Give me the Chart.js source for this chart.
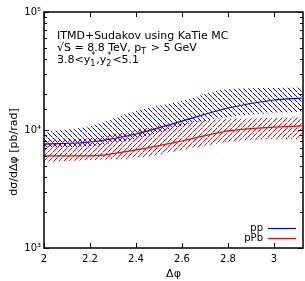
<!DOCTYPE html>
<html>
<head>
<meta charset="utf-8">
<script src="https://cdn.jsdelivr.net/npm/chart.js@4"></script>
<style>
  html, body { margin: 0; padding: 0; background: #fff; }
  #wrap { width: 305px; height: 281px; }
</style>
</head>
<body>
<div id="wrap"><canvas id="myChart" width="305" height="281"></canvas></div>
<script>
// delta phi values
const dphi = [2.0, 2.2, 2.4, 2.6, 2.8, 3.0, 3.12];
const xTicks = [2, 2.2, 2.4, 2.6, 2.8, 3];

// pp (blue)
const ppCentral = [7600, 7910, 9250, 11900, 15350, 17950, 18650];
const ppUpper   = [9620, 10820, 14490, 17600, 22250, 22700, 23150];
const ppLower   = [7030, 7310, 8390, 10820, 12880, 13930, 14210];

// pPb (red)
const pPbCentral = [6030, 6030, 6780, 8070, 9820, 10590, 10820];
const pPbUpper   = [8070, 8550, 10000, 11700, 12390, 12640, 12880];
const pPbLower   = [5360, 5570, 5790, 6780, 7910, 8390, 8390];

const seriesNames = ["pp", "pPb"];
const seriesColors = ["#0000ff", "#ff0000"];

function pts(ys) {
  return dphi.map((x, i) => ({ x: x, y: ys[i] }));
}

function hatch(color, back) {
  const c = document.createElement("canvas");
  c.width = 5; c.height = 5;
  const g = c.getContext("2d");
  g.fillStyle = color;
  for (let i = 0; i < 5; i++) {
    g.globalAlpha = (i == 2) ? 0.5 : 1;
    if (back) g.fillRect(i, i, 1, 1);
    else g.fillRect(i, 4 - i, 1, 1);
  }
  return g.createPattern(c, "repeat");
}

const FONT = "DejaVu Sans, sans-serif";

// inward ticks + frame, gnuplot style
const frame = {
  id: "frame",
  afterDraw(chart) {
    const ctx = chart.ctx;
    const a = chart.chartArea;
    const xs = chart.scales.x, ys = chart.scales.y;
    ctx.save();
    ctx.strokeStyle = "#000";
    ctx.lineWidth = 1;
    ctx.beginPath();
    for (const t of xTicks) {
      const px = Math.round(xs.getPixelForValue(t)) + 0.5;
      ctx.moveTo(px, a.bottom); ctx.lineTo(px, a.bottom - 5);
      ctx.moveTo(px, a.top); ctx.lineTo(px, a.top + 5);
    }
    for (const t of ys.ticks) {
      const v = t.value;
      const major = Math.abs(Math.log10(v) - Math.round(Math.log10(v))) < 1e-6;
      const len = major ? 5 : 3;
      const py = Math.round(ys.getPixelForValue(v)) + 0.5;
      ctx.moveTo(a.left, py); ctx.lineTo(a.left + len, py);
      ctx.moveTo(a.right, py); ctx.lineTo(a.right - len, py);
    }
    ctx.stroke();
    ctx.lineWidth = 1.5;
    ctx.strokeRect(a.left, a.top, a.right - a.left, a.bottom - a.top);

    // y axis label
    ctx.save();
    ctx.translate(14, 152);
    ctx.rotate(-Math.PI / 2);
    ctx.font = "11px " + FONT;
    ctx.fillStyle = "#000";
    ctx.textAlign = "center";
    ctx.textBaseline = "middle";
    ctx.fillText("d\u03C3/d\u0394\u03C6 [pb/rad]", 0, 0);
    ctx.restore();

    // legend
    ctx.font = "10px " + FONT;
    ctx.textAlign = "right";
    ctx.textBaseline = "middle";
    ctx.lineWidth = 1.2;
    for (let i = 0; i < seriesNames.length; i++) {
      const yy = 228 + i * 10;
      ctx.fillStyle = "#000";
      ctx.fillText(seriesNames[i], 263, yy);
      ctx.strokeStyle = seriesColors[i];
      ctx.beginPath();
      ctx.moveTo(268, yy + 0.5); ctx.lineTo(296, yy + 0.5);
      ctx.stroke();
    }

    // annotation text
    ctx.fillStyle = "#000";
    ctx.textAlign = "left";
    ctx.textBaseline = "alphabetic";
    const big = "11px " + FONT, small = "8px " + FONT;
    let x = 57;
    ctx.font = big;
    ctx.fillText("ITMD+Sudakov using KaTie MC", x, 39);

    let y = 51;
    const s1 = "\u221AS = 8.8 TeV, p";
    ctx.fillText(s1, x, y);
    x += ctx.measureText(s1).width;
    ctx.font = small;
    ctx.fillText("T", x, y + 3);
    x += ctx.measureText("T").width + 1;
    ctx.font = big;
    ctx.fillText(" > 5 GeV", x, y);

    y = 63; x = 57;
    const parts = ["3.8<y", ["*", "1"], ",y", ["*", "2"], "<5.1"];
    for (const p of parts) {
      if (typeof p === "string") {
        ctx.font = big;
        ctx.fillText(p, x, y);
        x += ctx.measureText(p).width;
      } else {
        ctx.font = small;
        ctx.fillText(p[0], x + 1, y - 5);
        ctx.fillText(p[1], x, y + 3);
        x += Math.max(ctx.measureText(p[0]).width, ctx.measureText(p[1]).width) + 1;
      }
    }
    ctx.restore();
  }
};

const bandBlue = hatch("#0000ff", true);
const bandRed = hatch("#ff0000", false);

new Chart("myChart", {
  type: "line",
  data: {
    datasets: [
      { data: pts(ppUpper), fill: "+1", backgroundColor: bandBlue, borderWidth: 0, pointRadius: 0, cubicInterpolationMode: "monotone" },
      { data: pts(ppLower), fill: false, borderWidth: 0, pointRadius: 0, cubicInterpolationMode: "monotone" },
      { data: pts(pPbUpper), fill: "+1", backgroundColor: bandRed, borderWidth: 0, pointRadius: 0, cubicInterpolationMode: "monotone" },
      { data: pts(pPbLower), fill: false, borderWidth: 0, pointRadius: 0, cubicInterpolationMode: "monotone" },
      { data: pts(ppCentral), borderColor: seriesColors[0], borderWidth: 1.2, fill: false, pointRadius: 0, cubicInterpolationMode: "monotone" },
      { data: pts(pPbCentral), borderColor: seriesColors[1], borderWidth: 1.2, fill: false, pointRadius: 0, cubicInterpolationMode: "monotone" },
    ],
  },
  options: {
    responsive: false,
    animation: false,
    layout: { padding: { top: 12, right: 2, left: 0, bottom: 0 } },
    plugins: { legend: { display: false }, tooltip: { enabled: false } },
    scales: {
      x: {
        type: "linear",
        min: 2,
        max: 3.126,
        afterBuildTicks: (s) => { s.ticks = xTicks.map(v => ({ value: v })); },
        afterFit: (s) => { s.height = 33; },
        grid: { display: false, drawTicks: false },
        border: { display: false },
        ticks: {
          color: "#000",
          font: { family: FONT, size: 10 },
          padding: 5,
          maxRotation: 0,
          callback: (v) => String(v),
        },
        title: { display: true, text: "\u0394\u03C6", color: "#000", font: { family: FONT, size: 11 }, padding: { top: 2, bottom: 0 } },
      },
      y: {
        type: "logarithmic",
        min: 1000,
        max: 100000,
        afterFit: (s) => { s.width = 44; },
        grid: { display: false, drawTicks: false },
        border: { display: false },
        ticks: {
          color: "#000",
          font: { family: FONT, size: 10 },
          padding: 3,
          autoSkip: false,
          callback: (v) => {
            if (v === 1000) return "10\u00B3";
            if (v === 10000) return "10\u2074";
            if (v === 100000) return "10\u2075";
            return "";
          },
        },
        title: { display: false },
      },
    },
  },
  plugins: [frame],
});
</script>
</body>
</html>
